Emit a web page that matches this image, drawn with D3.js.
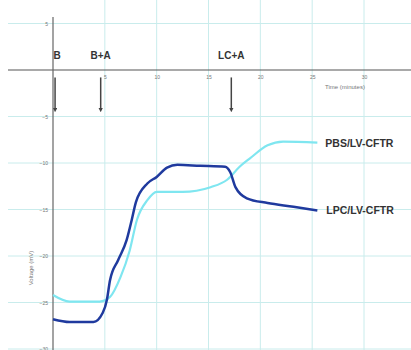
<!DOCTYPE html>
<html>
<head>
<meta charset="utf-8">
<script src="https://cdn.jsdelivr.net/npm/d3@7"></script>
<style>
  body { margin: 0; background: #fff; }
  svg { display: block; font-family: "Liberation Sans", Arial, sans-serif; }
</style>
</head>
<body>
<div id="chart"></div>
<script>
// time in minutes, voltage in mV
const pbsTime = [0, 1.6, 4.5, 5.5, 6.5, 7.4, 8.1, 9.1, 10.0, 12.5, 15.2, 16.8, 18.0, 19.0, 20.7, 22.2, 25.5];
const pbsVolt = [-24.2, -24.9, -24.9, -24.4, -22.3, -19.4, -16.1, -14.0, -13.1, -13.1, -12.6, -11.8, -10.4, -9.5, -8.1, -7.7, -7.8];

const lpcTime = [0, 1.6, 3.9, 4.8, 5.2, 5.5, 6.3, 7.1, 7.6, 8.0, 9.1, 10.0, 11.0, 12.0, 14.2, 16.6, 17.1, 17.6, 18.7, 20.7, 23.2, 25.5];
const lpcVolt = [-26.8, -27.1, -27.1, -26.1, -24.7, -22.6, -20.4, -18.3, -16.1, -14.2, -12.2, -11.5, -10.5, -10.2, -10.3, -10.4, -11.0, -12.6, -13.8, -14.3, -14.7, -15.1];

const seriesNames = ["PBS/LV-CFTR", "LPC/LV-CFTR"];

const xTicks = [5, 10, 15, 20, 25, 30];
const yTicks = [5, -5, -10, -15, -20, -25, -30];

const eventLabels = ["B", "B+A", "LC+A"];
const eventTimes = [0.2, 4.6, 17.2];

const width = 411, height = 350;

const svg = d3.select("#chart").append("svg")
  .attr("width", width)
  .attr("height", height);

const x = d3.scaleLinear().domain([0, 30]).range([53, 364]);
const y = d3.scaleLinear().domain([0, -30]).range([70, 349]);

// grid
svg.append("g")
  .selectAll("line")
  .data(xTicks)
  .enter()
  .append("line")
  .attr("x1", d => x(d)).attr("x2", d => x(d))
  .attr("y1", 0).attr("y2", height)
  .attr("stroke", "#c9ecec")
  .attr("stroke-width", 1);

svg.append("g")
  .selectAll("line")
  .data(yTicks)
  .enter()
  .append("line")
  .attr("x1", 8).attr("x2", width)
  .attr("y1", d => y(d)).attr("y2", d => y(d))
  .attr("stroke", "#c9ecec")
  .attr("stroke-width", 1);

// axes
const xAxis = svg.append("g")
  .attr("transform", "translate(0," + y(0) + ")")
  .call(d3.axisBottom(x).tickValues(xTicks).tickSize(0).tickPadding(5));
xAxis.select(".domain").remove();
xAxis.append("line")
  .attr("x1", 8).attr("x2", width)
  .attr("stroke", "#555").attr("stroke-width", 1.2);
xAxis.selectAll("text").attr("fill", "#777").style("font-size", "5px");

const yAxis = svg.append("g")
  .attr("transform", "translate(" + x(0) + ",0)")
  .call(d3.axisLeft(y).tickValues(yTicks).tickSize(0).tickPadding(5));
yAxis.select(".domain").remove();
yAxis.append("line")
  .attr("y1", 17).attr("y2", height)
  .attr("stroke", "#666").attr("stroke-width", 1.2);
yAxis.selectAll("text").attr("fill", "#777").style("font-size", "5px");

svg.append("text")
  .attr("x", 345).attr("y", 89)
  .attr("text-anchor", "middle")
  .attr("fill", "#777")
  .style("font-size", "6px")
  .text("Time (minutes)");

svg.append("text")
  .attr("transform", "translate(33,268) rotate(-90)")
  .attr("text-anchor", "middle")
  .attr("fill", "#777")
  .style("font-size", "6px")
  .text("Voltage (mV)");

// event arrows
svg.append("defs").append("marker")
  .attr("id", "arrow")
  .attr("viewBox", "0 0 10 10")
  .attr("refX", 5).attr("refY", 5)
  .attr("markerWidth", 3).attr("markerHeight", 3)
  .attr("orient", "auto")
  .append("path")
  .attr("d", "M0,0L10,5L0,10z")
  .attr("fill", "#444");

svg.append("g")
  .selectAll("line")
  .data(eventTimes)
  .enter()
  .append("line")
  .attr("x1", d => x(d)).attr("x2", d => x(d))
  .attr("y1", y(-0.8)).attr("y2", y(-4.3))
  .attr("stroke", "#444")
  .attr("stroke-width", 1.5)
  .attr("marker-end", "url(#arrow)");

svg.append("g")
  .selectAll("text")
  .data(eventLabels)
  .enter()
  .append("text")
  .attr("x", (d, i) => i === 0 ? x(eventTimes[i]) + 2 : x(eventTimes[i]))
  .attr("y", y(1.2))
  .attr("text-anchor", "middle")
  .attr("fill", "#333")
  .style("font-size", "10px")
  .style("font-weight", "bold")
  .text(d => d);

// curves
const line = d3.line()
  .x(d => x(d[0]))
  .y(d => y(d[1]))
  .curve(d3.curveMonotoneX);

const pbsData = d3.zip(pbsTime, pbsVolt);
const lpcData = d3.zip(lpcTime, lpcVolt);

svg.append("path")
  .datum(pbsData)
  .attr("d", line)
  .attr("fill", "none")
  .attr("stroke", "#7fe6f0")
  .attr("stroke-width", 2.2);

svg.append("path")
  .datum(lpcData)
  .attr("d", line)
  .attr("fill", "none")
  .attr("stroke", "#1f3a9e")
  .attr("stroke-width", 2.5);

// series labels at line ends
svg.append("text")
  .attr("x", x(pbsTime[pbsTime.length - 1]) + 8)
  .attr("y", y(pbsVolt[pbsVolt.length - 1]) + 4)
  .attr("fill", "#333")
  .style("font-size", "10.5px")
  .style("font-weight", "bold")
  .text(seriesNames[0]);

svg.append("text")
  .attr("x", x(lpcTime[lpcTime.length - 1]) + 9)
  .attr("y", y(lpcVolt[lpcVolt.length - 1]) + 4)
  .attr("fill", "#333")
  .style("font-size", "10.5px")
  .style("font-weight", "bold")
  .text(seriesNames[1]);
</script>
</body>
</html>
